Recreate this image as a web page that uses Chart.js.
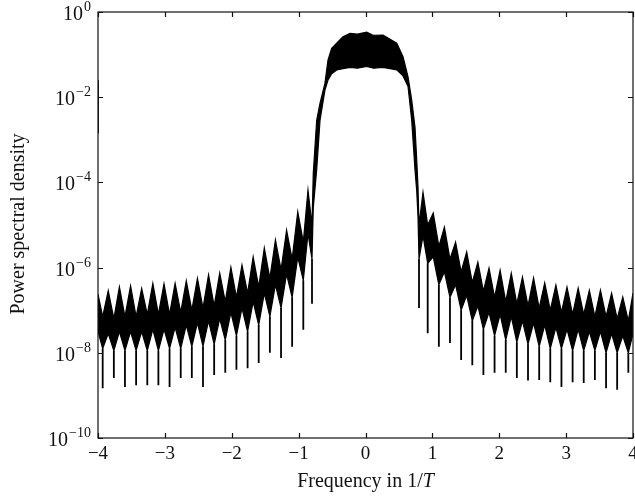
<!DOCTYPE html>
<html><head><meta charset="utf-8">
<script src="https://cdn.jsdelivr.net/npm/chart.js@4.4.0/dist/chart.umd.min.js"></script>
<style>html,body{margin:0;padding:0;background:#fff;}#wrap{width:635px;height:498px;position:relative;}</style>
</head><body><div id="wrap"><canvas id="c" width="635" height="498"></canvas></div>
<script>
// Frequency nodes (in 1/T) along the spectrum: side-lobe peaks / nulls and main-lobe outline
const freq = [
 -4.0, -3.93, -3.847, -3.763, -3.68, -3.597, -3.513, -3.43, -3.347, -3.263, -3.18, -3.097, -3.013, -2.93,
 -2.847, -2.763, -2.68, -2.597, -2.513, -2.43, -2.347, -2.263, -2.18, -2.097, -2.013, -1.93, -1.847, -1.763,
 -1.68, -1.597, -1.513, -1.43, -1.347, -1.263, -1.18, -1.097, -1.013, -0.93, -0.86, -0.80,
 -0.781, -0.73, -0.68, -0.606, -0.561, -0.506, -0.431, -0.336, -0.231, -0.12, 0.018, 0.12, 0.262, 0.467,
 0.561, 0.636, 0.691, 0.740, 0.766, 0.785,
 0.80, 0.86, 0.93, 1.013, 1.097, 1.18, 1.263, 1.347, 1.43, 1.513, 1.597, 1.68, 1.763, 1.847, 1.93, 2.013,
 2.097, 2.18, 2.263, 2.347, 2.43, 2.513, 2.597, 2.68, 2.763, 2.847, 2.93, 3.013, 3.097, 3.18, 3.263, 3.347,
 3.43, 3.513, 3.597, 3.68, 3.763, 3.847, 3.93, 4.0
];
// upper edge of the dense PSD trace, log10 of power spectral density
const upperExp = [
 -6.62, -7.15, -6.54, -7.2, -6.45, -7.15, -6.43, -7.15, -6.49, -7.1, -6.37, -7.1, -6.38, -7.1,
 -6.37, -7.05, -6.31, -7.0, -6.25, -6.95, -6.17, -6.9, -6.13, -6.8, -5.99, -6.7, -5.94, -6.6,
 -5.75, -6.45, -5.54, -6.25, -5.35, -6.05, -5.12, -5.8, -4.69, -5.4, -4.18, -5.0,
 -3.79, -2.54, -2.14, -1.67, -1.13, -0.85, -0.73, -0.58, -0.50, -0.52, -0.47, -0.55, -0.54, -0.73,
 -1.05, -1.52, -2.07, -2.7, -3.47, -4.1,
 -5.0, -4.23, -5.0, -4.72, -5.5, -5.05, -5.8, -5.40, -6.1, -5.63, -6.35, -5.87, -6.55, -6.01, -6.7, -6.06,
 -6.8, -6.13, -6.85, -6.22, -6.9, -6.24, -6.95, -6.36, -7.0, -6.41, -7.05, -6.46, -7.1, -6.48, -7.1, -6.53,
 -7.15, -6.53, -7.15, -6.6, -7.2, -6.69, -7.25, -6.6
];
// lower edge of the dense PSD trace, log10
const lowerExp = [
 -7.5, -7.9, -7.55, -7.95, -7.5, -7.95, -7.5, -7.95, -7.5, -7.95, -7.45, -7.95, -7.45, -7.9,
 -7.4, -7.9, -7.35, -7.85, -7.3, -7.85, -7.25, -7.8, -7.2, -7.7, -7.05, -7.6, -6.95, -7.5,
 -6.8, -7.35, -6.6, -7.15, -6.4, -6.95, -6.15, -6.7, -5.75, -6.3, -5.2, -5.8,
 -4.6, -3.7, -2.54, -1.83, -1.6, -1.45, -1.36, -1.33, -1.3, -1.32, -1.28, -1.32, -1.3, -1.36,
 -1.5, -1.75, -2.54, -3.7, -4.2, -4.8,
 -5.8, -5.25, -5.9, -5.75, -6.4, -6.1, -6.7, -6.4, -7.0, -6.65, -7.25, -6.9, -7.45, -7.05, -7.6, -7.1,
 -7.7, -7.15, -7.75, -7.25, -7.8, -7.3, -7.85, -7.35, -7.9, -7.4, -7.9, -7.45, -7.95, -7.45, -7.95, -7.5,
 -7.95, -7.5, -8.0, -7.55, -8.0, -7.6, -8.0, -7.55
];
// spectral nulls: frequency and depth (log10)
const nullFreq = [
 -3.93, -3.763, -3.597, -3.43, -3.263, -3.097, -2.93, -2.763, -2.597, -2.43, -2.263, -2.097, -1.93, -1.763,
 -1.597, -1.43, -1.263, -1.097, -0.93, -0.80,
 0.80, 0.93, 1.097, 1.263, 1.43, 1.597, 1.763, 1.93, 2.097, 2.263, 2.43, 2.597, 2.763, 2.93, 3.097, 3.263,
 3.43, 3.597, 3.763, 3.93
];
const nullDepthExp = [
 -8.83, -8.59, -8.80, -8.76, -8.76, -8.76, -8.80, -8.59, -8.59, -8.80, -8.52, -8.47, -8.40, -8.36,
 -8.24, -8.00, -8.12, -7.86, -7.46, -6.85,
 -6.95, -7.54, -7.86, -7.77, -8.17, -8.29, -8.52, -8.47, -8.47, -8.59, -8.65, -8.64, -8.69, -8.80, -8.69, -8.71,
 -8.64, -8.83, -8.87, -8.47
];
// short trace segment hugging the left border at f = -4
const edgeFreq = [-4.0];
const edgeTopExp = [-1.6];
const edgeBottomExp = [-2.85];

const xTicks = [-4, -3, -2, -1, 0, 1, 2, 3, 4];
const xTickLabels = ['\u22124', '\u22123', '\u22122', '\u22121', '0', '1', '2', '3', '4'];
const yTickExps = [0, -2, -4, -6, -8, -10];
const yTickExpLabels = ['0', '\u22122', '\u22124', '\u22126', '\u22128', '\u221210'];

const upperPts = freq.map((f, i) => ({x: f, y: Math.pow(10, upperExp[i])}));
const lowerPts = freq.map((f, i) => ({x: f, y: Math.pow(10, lowerExp[i])}));
const spikePts = [];
nullFreq.forEach((f, i) => {
  const j = freq.indexOf(f);
  spikePts.push({x: f, y: Math.pow(10, lowerExp[j])});
  spikePts.push({x: f, y: Math.pow(10, nullDepthExp[i])});
  spikePts.push({x: f, y: null});
});
edgeFreq.forEach((f, i) => {
  spikePts.push({x: f, y: Math.pow(10, edgeTopExp[i])});
  spikePts.push({x: f, y: Math.pow(10, edgeBottomExp[i])});
  spikePts.push({x: f, y: null});
});

const SERIF = '"Liberation Serif", "Times New Roman", serif';

const frame = {
  id: 'frame',
  afterDatasetsDraw(chart) {
    const ctx = chart.ctx, a = chart.chartArea;
    const xs = chart.scales.x, ys = chart.scales.y;
    ctx.save();
    ctx.strokeStyle = '#111';
    ctx.lineWidth = 1.2;
    ctx.strokeRect(a.left, a.top, a.right - a.left, a.bottom - a.top);
    ctx.beginPath();
    xTicks.forEach(v => {
      const p = Math.round(xs.getPixelForValue(v)) + 0.5;
      ctx.moveTo(p, a.bottom); ctx.lineTo(p, a.bottom - 5);
      ctx.moveTo(p, a.top); ctx.lineTo(p, a.top + 5);
    });
    yTickExps.forEach(e => {
      const p = Math.round(ys.getPixelForValue(Math.pow(10, e))) + 0.5;
      ctx.moveTo(a.left, p); ctx.lineTo(a.left + 5, p);
      ctx.moveTo(a.right, p); ctx.lineTo(a.right - 5, p);
    });
    ctx.stroke();

    ctx.fillStyle = '#111';
    // x tick labels
    ctx.font = '19px ' + SERIF;
    ctx.textAlign = 'center';
    ctx.textBaseline = 'alphabetic';
    xTicks.forEach((v, i) => {
      ctx.fillText(xTickLabels[i], xs.getPixelForValue(v), 459);
    });
    // y tick labels 10^e
    yTickExps.forEach((e, i) => {
      const p = ys.getPixelForValue(Math.pow(10, e));
      ctx.font = '14px ' + SERIF;
      const ew = ctx.measureText(yTickExpLabels[i]).width;
      const right = 91;
      ctx.textAlign = 'left';
      ctx.fillText(yTickExpLabels[i], right - ew, p - 1);
      ctx.font = '20px ' + SERIF;
      ctx.textAlign = 'right';
      ctx.fillText('10', right - ew - 1, p + 8);
    });
    // x title
    const FS = '20px ';
    const t1 = 'Frequency in 1/';
    ctx.font = 'italic ' + FS + SERIF;
    const wT = ctx.measureText('T').width;
    ctx.font = FS + SERIF;
    const w1 = ctx.measureText(t1).width;
    const cx = (a.left + a.right) / 2;
    const sx = cx - (w1 + wT) / 2;
    ctx.textAlign = 'left';
    ctx.fillText(t1, sx, 487);
    ctx.font = 'italic ' + FS + SERIF;
    ctx.fillText('T', sx + w1, 487);
    // y title
    ctx.save();
    ctx.translate(24, 224);
    ctx.rotate(-Math.PI / 2);
    ctx.font = FS + SERIF;
    ctx.textAlign = 'center';
    ctx.fillText('Power spectral density', 0, 0);
    ctx.restore();
    ctx.restore();
  }
};

new Chart(document.getElementById('c'), {
  type: 'line',
  data: {
    datasets: [
      {label: 'upper', data: upperPts, borderColor: '#000', backgroundColor: '#000', borderWidth: 1.2,
       pointRadius: 0, fill: '+1', tension: 0},
      {label: 'lower', data: lowerPts, borderColor: '#000', borderWidth: 1.2, pointRadius: 0, fill: false, tension: 0},
      {label: 'nulls', data: spikePts, borderColor: '#000', borderWidth: 1.8, pointRadius: 0, fill: false,
       spanGaps: false, tension: 0}
    ]
  },
  options: {
    responsive: false,
    animation: false,
    devicePixelRatio: 1,
    layout: {padding: {left: 98, right: 2, top: 12, bottom: 60}},
    scales: {
      x: {type: 'linear', min: -4, max: 4, display: false},
      y: {type: 'logarithmic', min: 1e-10, max: 1, display: false}
    },
    plugins: {legend: {display: false}, tooltip: {enabled: false}}
  },
  plugins: [frame]
});
</script></body></html>
